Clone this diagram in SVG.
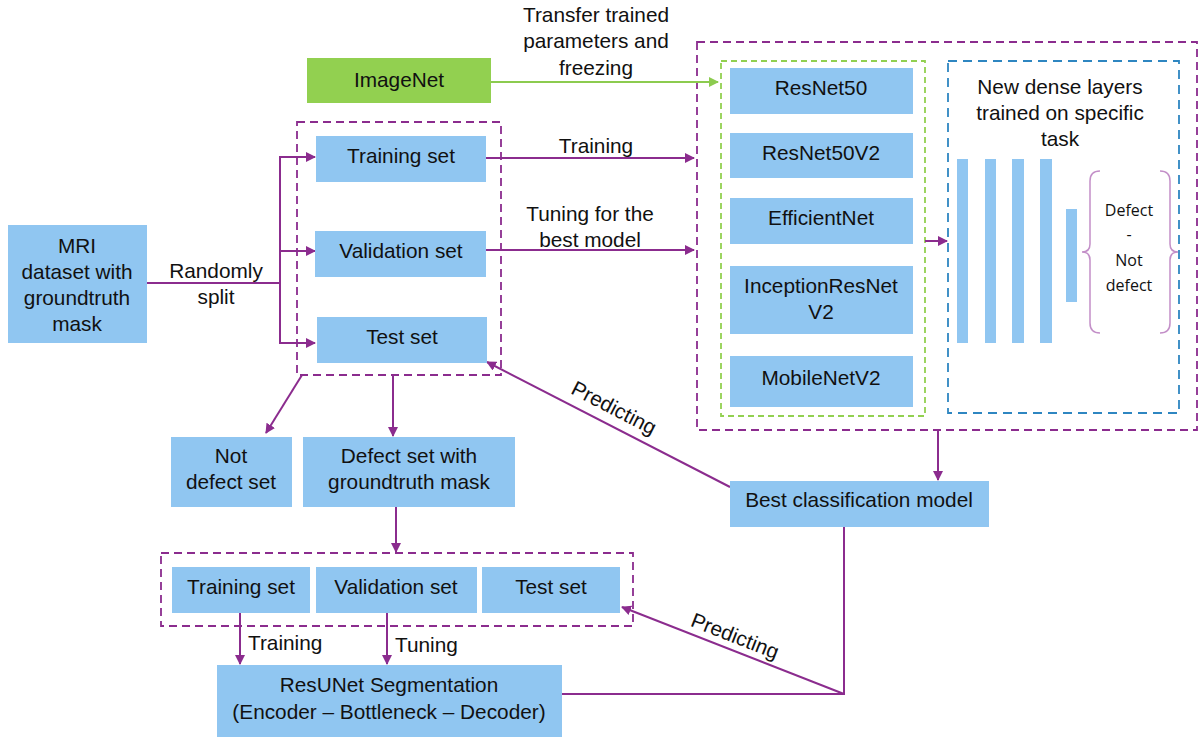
<svg xmlns="http://www.w3.org/2000/svg" width="1202" height="737" viewBox="0 0 1202 737">
<style>
.box{fill:#90C6F1;}
.green{fill:#92D050;}
.t{font-family:"Liberation Sans",Arial,sans-serif;font-size:20.8px;fill:#111;text-anchor:middle;}
.s{font-family:"Open Sans","Liberation Sans",sans-serif;font-size:16px;fill:#111;text-anchor:middle;}
.c{stroke:#8B2C8E;stroke-width:2;fill:none;}
.cg{stroke:#8CCB4F;stroke-width:2;fill:none;}
.dp{stroke:#8B2C8E;stroke-width:1.8;fill:none;stroke-dasharray:8,5;}
.dg{stroke:#92D050;stroke-width:1.8;fill:none;stroke-dasharray:6,4;}
.db{stroke:#2E86C1;stroke-width:1.8;fill:none;stroke-dasharray:9,6;}
</style>
<defs>
<marker id="ap" markerWidth="10" markerHeight="10" refX="9" refY="5" orient="auto" markerUnits="userSpaceOnUse"><path d="M0,0 L10,5 L0,10 z" fill="#8B2C8E"/></marker>
<marker id="ag" markerWidth="10" markerHeight="10" refX="9" refY="5" orient="auto" markerUnits="userSpaceOnUse"><path d="M0,0 L10,5 L0,10 z" fill="#8CCB4F"/></marker>
</defs>
<rect width="1202" height="737" fill="#fff"/>

<g id="containers">
<rect class="dp" x="297" y="122" width="204" height="253"/>
<rect class="dp" x="697" y="42" width="500" height="388"/>
<rect class="dg" x="721" y="61" width="204" height="355"/>
<rect class="db" x="948" y="61" width="231" height="352"/>
<rect class="dp" x="161" y="553" width="472" height="73"/>
</g>

<g id="connectors">
<line class="cg" x1="491" y1="82" x2="718" y2="82" marker-end="url(#ag)"/>
<line class="c" x1="486" y1="158" x2="694" y2="158" marker-end="url(#ap)"/>
<line class="c" x1="486" y1="250" x2="694" y2="250" marker-end="url(#ap)"/>
<line class="c" x1="147" y1="283" x2="280" y2="283"/>
<polyline class="c" points="280,157 280,343 315,343" marker-end="url(#ap)"/>
<line class="c" x1="279" y1="157" x2="315" y2="157" marker-end="url(#ap)"/>
<line class="c" x1="280" y1="251" x2="315" y2="251" marker-end="url(#ap)"/>
<line class="c" x1="925" y1="241" x2="947" y2="241" marker-end="url(#ap)"/>
<line class="c" x1="938" y1="430" x2="938" y2="480" marker-end="url(#ap)"/>
<line class="c" x1="302" y1="375" x2="266" y2="433" marker-end="url(#ap)"/>
<line class="c" x1="393" y1="375" x2="393" y2="436" marker-end="url(#ap)"/>
<line class="c" x1="396" y1="507" x2="396" y2="552" marker-end="url(#ap)"/>
<line class="c" x1="240" y1="613" x2="240" y2="664" marker-end="url(#ap)"/>
<line class="c" x1="387" y1="613" x2="387" y2="664" marker-end="url(#ap)"/>
<line class="c" x1="730" y1="487" x2="487" y2="362" marker-end="url(#ap)"/>
<polyline class="c" points="562,694 844,694 844,527"/>
<line class="c" x1="844" y1="694" x2="622" y2="607" marker-end="url(#ap)"/>
<path d="M1100,171 Q1090,171 1090,181 L1090,244 Q1090,252 1082,252 Q1090,252 1090,260 L1090,323 Q1090,333 1100,333" stroke="#C38FC8" stroke-width="1.5" fill="none"/>
<path d="M1160,171 Q1170,171 1170,181 L1170,244 Q1170,252 1178,252 Q1170,252 1170,260 L1170,323 Q1170,333 1160,333" stroke="#C38FC8" stroke-width="1.5" fill="none"/>
</g>

<g id="labels">
<text class="t" x="596" y="22">Transfer trained</text>
<text class="t" x="596" y="48">parameters and</text>
<text class="t" x="596" y="75">freezing</text>
<text class="t" x="596" y="153">Training</text>
<text class="t" x="590" y="221">Tuning for the</text>
<text class="t" x="590" y="247">best model</text>
<text class="t" x="216" y="278">Randomly</text>
<text class="t" x="216" y="304">split</text>
<text class="t" x="614" y="415" transform="rotate(27.3 614 408)">Predicting</text>
<text class="t" x="735" y="643" transform="rotate(21.4 735 636)">Predicting</text>
<text class="t" x="248" y="650" style="text-anchor:start">Training</text>
<text class="t" x="395" y="652" style="text-anchor:start">Tuning</text>
</g>

<g id="imagenet"><rect class="green" x="307" y="58" width="184" height="45"/><text class="t" x="399" y="87">ImageNet</text></g>
<g id="mri"><rect class="box" x="8" y="225" width="139" height="118"/>
<text class="t" x="77" y="253">MRI</text><text class="t" x="77" y="279">dataset with</text><text class="t" x="77" y="305">groundtruth</text><text class="t" x="77" y="331">mask</text></g>
<g id="train1"><rect class="box" x="316" y="136" width="170" height="46"/><text class="t" x="401" y="163">Training set</text></g>
<g id="val1"><rect class="box" x="315" y="231" width="171" height="46"/><text class="t" x="401" y="258">Validation set</text></g>
<g id="test1"><rect class="box" x="317" y="317" width="170" height="46"/><text class="t" x="402" y="344">Test set</text></g>

<g id="resnet50"><rect class="box" x="730" y="68" width="183" height="46"/><text class="t" x="821" y="95">ResNet50</text></g>
<g id="resnet50v2"><rect class="box" x="730" y="133" width="183" height="45"/><text class="t" x="821" y="160">ResNet50V2</text></g>
<g id="efficientnet"><rect class="box" x="730" y="198" width="183" height="46"/><text class="t" x="821" y="225">EfficientNet</text></g>
<g id="inception"><rect class="box" x="730" y="266" width="183" height="68"/><text class="t" x="821" y="293">InceptionResNet</text><text class="t" x="821" y="319">V2</text></g>
<g id="mobilenet"><rect class="box" x="730" y="356" width="183" height="51"/><text class="t" x="821" y="385">MobileNetV2</text></g>

<g id="dense">
<text class="t" x="1060" y="94">New dense layers</text>
<text class="t" x="1060" y="120">trained on specific</text>
<text class="t" x="1060" y="146">task</text>
<rect class="box" x="957" y="159" width="11" height="184"/>
<rect class="box" x="985" y="159" width="11" height="184"/>
<rect class="box" x="1012" y="159" width="12" height="184"/>
<rect class="box" x="1040" y="159" width="12" height="184"/>
<rect class="box" x="1066" y="209" width="11" height="93"/>
<text class="s" x="1129" y="216">Defect</text>
<text class="s" x="1129" y="240">-</text>
<text class="s" x="1129" y="266">Not</text>
<text class="s" x="1129" y="291">defect</text>
</g>

<g id="best"><rect class="box" x="730" y="481" width="259" height="46"/><text class="t" x="859" y="507">Best classification model</text></g>
<g id="notdefect"><rect class="box" x="171" y="437" width="121" height="70"/><text class="t" x="231" y="463">Not</text><text class="t" x="231" y="489">defect set</text></g>
<g id="defectset"><rect class="box" x="303" y="437" width="212" height="70"/><text class="t" x="409" y="463">Defect set with</text><text class="t" x="409" y="489">groundtruth mask</text></g>
<g id="train2"><rect class="box" x="172" y="567" width="138" height="46"/><text class="t" x="241" y="594">Training set</text></g>
<g id="val2"><rect class="box" x="316" y="567" width="161" height="46"/><text class="t" x="396" y="594">Validation set</text></g>
<g id="test2"><rect class="box" x="482" y="567" width="138" height="46"/><text class="t" x="551" y="594">Test set</text></g>
<g id="resunet"><rect class="box" x="217" y="665" width="345" height="72"/><text class="t" x="389" y="692">ResUNet Segmentation</text><text class="t" x="389" y="719">(Encoder – Bottleneck – Decoder)</text></g>
</svg>
